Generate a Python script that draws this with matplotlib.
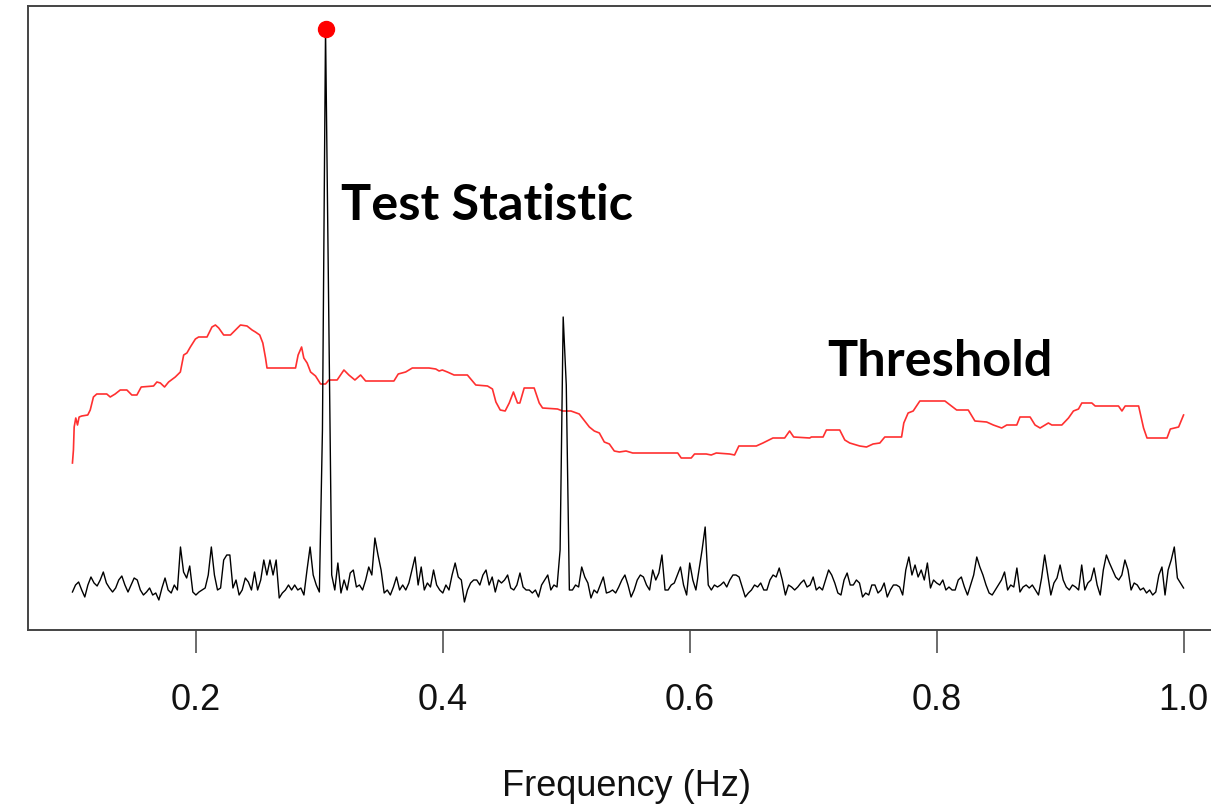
import numpy as np
import matplotlib
matplotlib.use("Agg")
import matplotlib.pyplot as plt

# test statistic on a 0.0025 Hz grid from 0.1 to 1.0 Hz
stat_values = [
    0.13, 0.20, 0.23, 0.15, 0.08, 0.20, 0.28, 0.22, 0.19, 0.25, 0.33, 0.22, 0.17, 0.13, 0.17, 0.25, 0.29, 0.20, 0.13, 0.20,
    0.27, 0.25, 0.15, 0.10, 0.13, 0.17, 0.10, 0.12, 0.05, 0.17, 0.27, 0.15, 0.12, 0.20, 0.15, 0.58, 0.33, 0.27, 0.39, 0.13,
    0.10, 0.13, 0.15, 0.17, 0.30, 0.58, 0.30, 0.15, 0.17, 0.45, 0.50, 0.50, 0.17, 0.25, 0.10, 0.15, 0.27, 0.23, 0.15, 0.33,
    0.15, 0.25, 0.45, 0.30, 0.45, 0.30, 0.45, 0.07, 0.12, 0.15, 0.20, 0.15, 0.20, 0.15, 0.17, 0.10, 0.35, 0.58, 0.30, 0.20,
    0.13, 1.75, 5.76, 3.05, 0.30, 0.15, 0.42, 0.12, 0.25, 0.15, 0.32, 0.35, 0.18, 0.20, 0.15, 0.25, 0.38, 0.30, 0.67, 0.50,
    0.35, 0.12, 0.15, 0.10, 0.18, 0.28, 0.15, 0.20, 0.15, 0.22, 0.35, 0.48, 0.20, 0.38, 0.15, 0.22, 0.18, 0.35, 0.20, 0.15,
    0.12, 0.20, 0.15, 0.30, 0.42, 0.28, 0.25, 0.03, 0.15, 0.22, 0.25, 0.25, 0.20, 0.30, 0.35, 0.20, 0.28, 0.13, 0.25, 0.22,
    0.25, 0.30, 0.17, 0.15, 0.20, 0.32, 0.18, 0.15, 0.15, 0.12, 0.15, 0.08, 0.20, 0.25, 0.30, 0.15, 0.20, 0.18, 0.55, 2.88,
    2.20, 0.15, 0.15, 0.20, 0.18, 0.38, 0.28, 0.22, 0.07, 0.15, 0.12, 0.20, 0.28, 0.12, 0.13, 0.15, 0.12, 0.18, 0.25, 0.30,
    0.20, 0.08, 0.15, 0.25, 0.30, 0.28, 0.20, 0.15, 0.35, 0.25, 0.32, 0.50, 0.15, 0.15, 0.20, 0.22, 0.30, 0.38, 0.20, 0.10,
    0.42, 0.25, 0.15, 0.35, 0.55, 0.78, 0.20, 0.15, 0.20, 0.18, 0.20, 0.23, 0.18, 0.25, 0.30, 0.30, 0.28, 0.18, 0.08, 0.12,
    0.15, 0.20, 0.18, 0.22, 0.15, 0.15, 0.25, 0.30, 0.28, 0.37, 0.25, 0.10, 0.20, 0.18, 0.15, 0.18, 0.22, 0.25, 0.18, 0.20,
    0.28, 0.15, 0.18, 0.15, 0.25, 0.35, 0.30, 0.22, 0.12, 0.10, 0.25, 0.32, 0.20, 0.20, 0.25, 0.22, 0.08, 0.12, 0.10, 0.20,
    0.20, 0.12, 0.15, 0.22, 0.08, 0.15, 0.20, 0.20, 0.18, 0.10, 0.35, 0.48, 0.30, 0.40, 0.28, 0.35, 0.25, 0.42, 0.17, 0.25,
    0.22, 0.20, 0.25, 0.15, 0.18, 0.15, 0.15, 0.25, 0.28, 0.18, 0.10, 0.20, 0.30, 0.48, 0.38, 0.30, 0.20, 0.12, 0.10, 0.15,
    0.20, 0.25, 0.33, 0.15, 0.20, 0.18, 0.37, 0.13, 0.18, 0.20, 0.17, 0.20, 0.15, 0.10, 0.27, 0.50, 0.30, 0.10, 0.22, 0.27,
    0.40, 0.25, 0.18, 0.15, 0.20, 0.18, 0.15, 0.40, 0.15, 0.22, 0.25, 0.37, 0.20, 0.10, 0.35, 0.50, 0.42, 0.35, 0.28, 0.25,
    0.30, 0.45, 0.35, 0.15, 0.22, 0.20, 0.15, 0.17, 0.12, 0.15, 0.10, 0.13, 0.30, 0.38, 0.10, 0.35, 0.45, 0.58, 0.27, 0.22, 0.17,
]
stat_freq = np.linspace(0.1, 1.0, len(stat_values))

# threshold curve, breakpoints
thr_freq = [
    0.1000, 0.1008, 0.1014, 0.1027, 0.1041, 0.1054, 0.1075, 0.1124, 0.1144, 0.1170, 0.1197, 0.1278, 0.1306, 0.1346,
    0.1387, 0.1441, 0.1481, 0.1522, 0.1557, 0.1657, 0.1684, 0.1712, 0.1746, 0.1779, 0.1833, 0.1874, 0.1901, 0.1927,
    0.1955, 0.1996, 0.2022, 0.2090, 0.2130, 0.2158, 0.2185, 0.2225, 0.2280, 0.2320, 0.2361, 0.2414, 0.2455, 0.2482,
    0.2517, 0.2542, 0.2564, 0.2576, 0.2807, 0.2828, 0.2856, 0.2874, 0.2901, 0.2929, 0.2969, 0.3010, 0.3050, 0.3077,
    0.3144, 0.3199, 0.3239, 0.3288, 0.3334, 0.3375, 0.3604, 0.3639, 0.3699, 0.3753, 0.3821, 0.3888, 0.3943, 0.3970,
    0.3996, 0.4037, 0.4091, 0.4199, 0.4267, 0.4362, 0.4402, 0.4430, 0.4465, 0.4505, 0.4538, 0.4572, 0.4605, 0.4624,
    0.4659, 0.4740, 0.4781, 0.4808, 0.4929, 0.4970, 0.5038, 0.5105, 0.5187, 0.5227, 0.5268, 0.5308, 0.5349, 0.5389,
    0.5430, 0.5484, 0.5538, 0.5903, 0.5931, 0.6012, 0.6039, 0.6134, 0.6174, 0.6215, 0.6323, 0.6363, 0.6398, 0.6539,
    0.6593, 0.6674, 0.6769, 0.6809, 0.6842, 0.6972, 0.6985, 0.7080, 0.7107, 0.7215, 0.7256, 0.7296, 0.7377, 0.7432,
    0.7485, 0.7540, 0.7580, 0.7716, 0.7734, 0.7769, 0.7810, 0.7864, 0.8067, 0.8162, 0.8256, 0.8310, 0.8405, 0.8459,
    0.8527, 0.8568, 0.8649, 0.8675, 0.8757, 0.8797, 0.8838, 0.8878, 0.8905, 0.8933, 0.9014, 0.9068, 0.9108, 0.9149,
    0.9176, 0.9257, 0.9284, 0.9473, 0.9501, 0.9527, 0.9636, 0.9676, 0.9704, 0.9866, 0.9893, 0.9960, 1.0000,
]
thr_values = [
    1.42, 1.55, 1.78, 1.87, 1.80, 1.88, 1.89, 1.90, 1.95, 2.08, 2.11, 2.11, 2.08, 2.11,
    2.15, 2.15, 2.10, 2.10, 2.18, 2.19, 2.23, 2.22, 2.18, 2.23, 2.28, 2.33, 2.50, 2.52,
    2.58, 2.66, 2.68, 2.68, 2.78, 2.80, 2.77, 2.70, 2.70, 2.75, 2.80, 2.79, 2.75, 2.73,
    2.70, 2.62, 2.47, 2.37, 2.37, 2.50, 2.58, 2.47, 2.42, 2.33, 2.29, 2.21, 2.21, 2.25,
    2.25, 2.35, 2.30, 2.25, 2.30, 2.24, 2.24, 2.31, 2.33, 2.37, 2.37, 2.37, 2.36, 2.34,
    2.35, 2.33, 2.30, 2.30, 2.20, 2.19, 2.16, 2.03, 1.95, 1.94, 2.02, 2.13, 2.02, 2.02,
    2.17, 2.17, 2.02, 1.97, 1.96, 1.94, 1.94, 1.91, 1.78, 1.74, 1.72, 1.63, 1.61, 1.54,
    1.53, 1.54, 1.52, 1.52, 1.47, 1.47, 1.51, 1.51, 1.50, 1.52, 1.51, 1.50, 1.59, 1.59,
    1.62, 1.67, 1.67, 1.74, 1.68, 1.67, 1.68, 1.68, 1.75, 1.75, 1.65, 1.62, 1.59, 1.58,
    1.61, 1.62, 1.68, 1.68, 1.82, 1.92, 1.94, 2.04, 2.04, 1.95, 1.95, 1.84, 1.83, 1.80,
    1.77, 1.80, 1.80, 1.88, 1.88, 1.80, 1.77, 1.80, 1.82, 1.80, 1.80, 1.87, 1.94, 1.96,
    2.02, 2.02, 1.99, 1.99, 1.94, 1.99, 1.99, 1.77, 1.67, 1.67, 1.76, 1.78, 1.90,
]

tick_pos = [0.2, 0.4, 0.6, 0.8, 1.0]
tick_labels = ['0.2', '0.4', '0.6', '0.8', '1.0']

W, H = 1211, 807
fig = plt.figure(figsize=(W / 100, H / 100), dpi=100)
# the original figure is cropped on the right, so the box runs past the edge
ax = fig.add_axes([28 / W, 177 / H, 1200 / W, 624 / H])

ax.plot(thr_freq, thr_values, color='#ff3030', lw=1.2)
ax.plot(stat_freq, stat_values, color='black', lw=1.0)
i_max = int(np.argmax(stat_values))
ax.plot(stat_freq[i_max], stat_values[i_max], 'o', color='red', ms=11.5)

ax.set_xlim(0.064, 1.036)
ax.set_ylim(-0.25, 5.99)
ax.set_yticks([])
ax.set_xticks(tick_pos)
ax.set_xticklabels(tick_labels, fontfamily='Liberation Sans', fontsize=26)
ax.tick_params(axis='x', direction='out', length=16.5, width=1.1, color='#444444',
               pad=22, labelcolor='#111111')
for s in ax.spines.values():
    s.set_color('#444444')
    s.set_linewidth(1.4)

ax.text(0.3174, 3.99, 'Test Statistic', fontfamily='Lato', fontweight='bold',
        fontsize=36.3, va='center', ha='left')
ax.text(0.7110, 2.44, 'Threshold', fontfamily='Lato', fontweight='bold',
        fontsize=36.3, va='center', ha='left')

fig.text(626 / W, 1 - 786 / H, 'Frequency (Hz)', fontfamily='Liberation Sans',
         fontsize=26, ha='center', va='center', color='#111111')

fig.savefig('out.png', dpi=100)
